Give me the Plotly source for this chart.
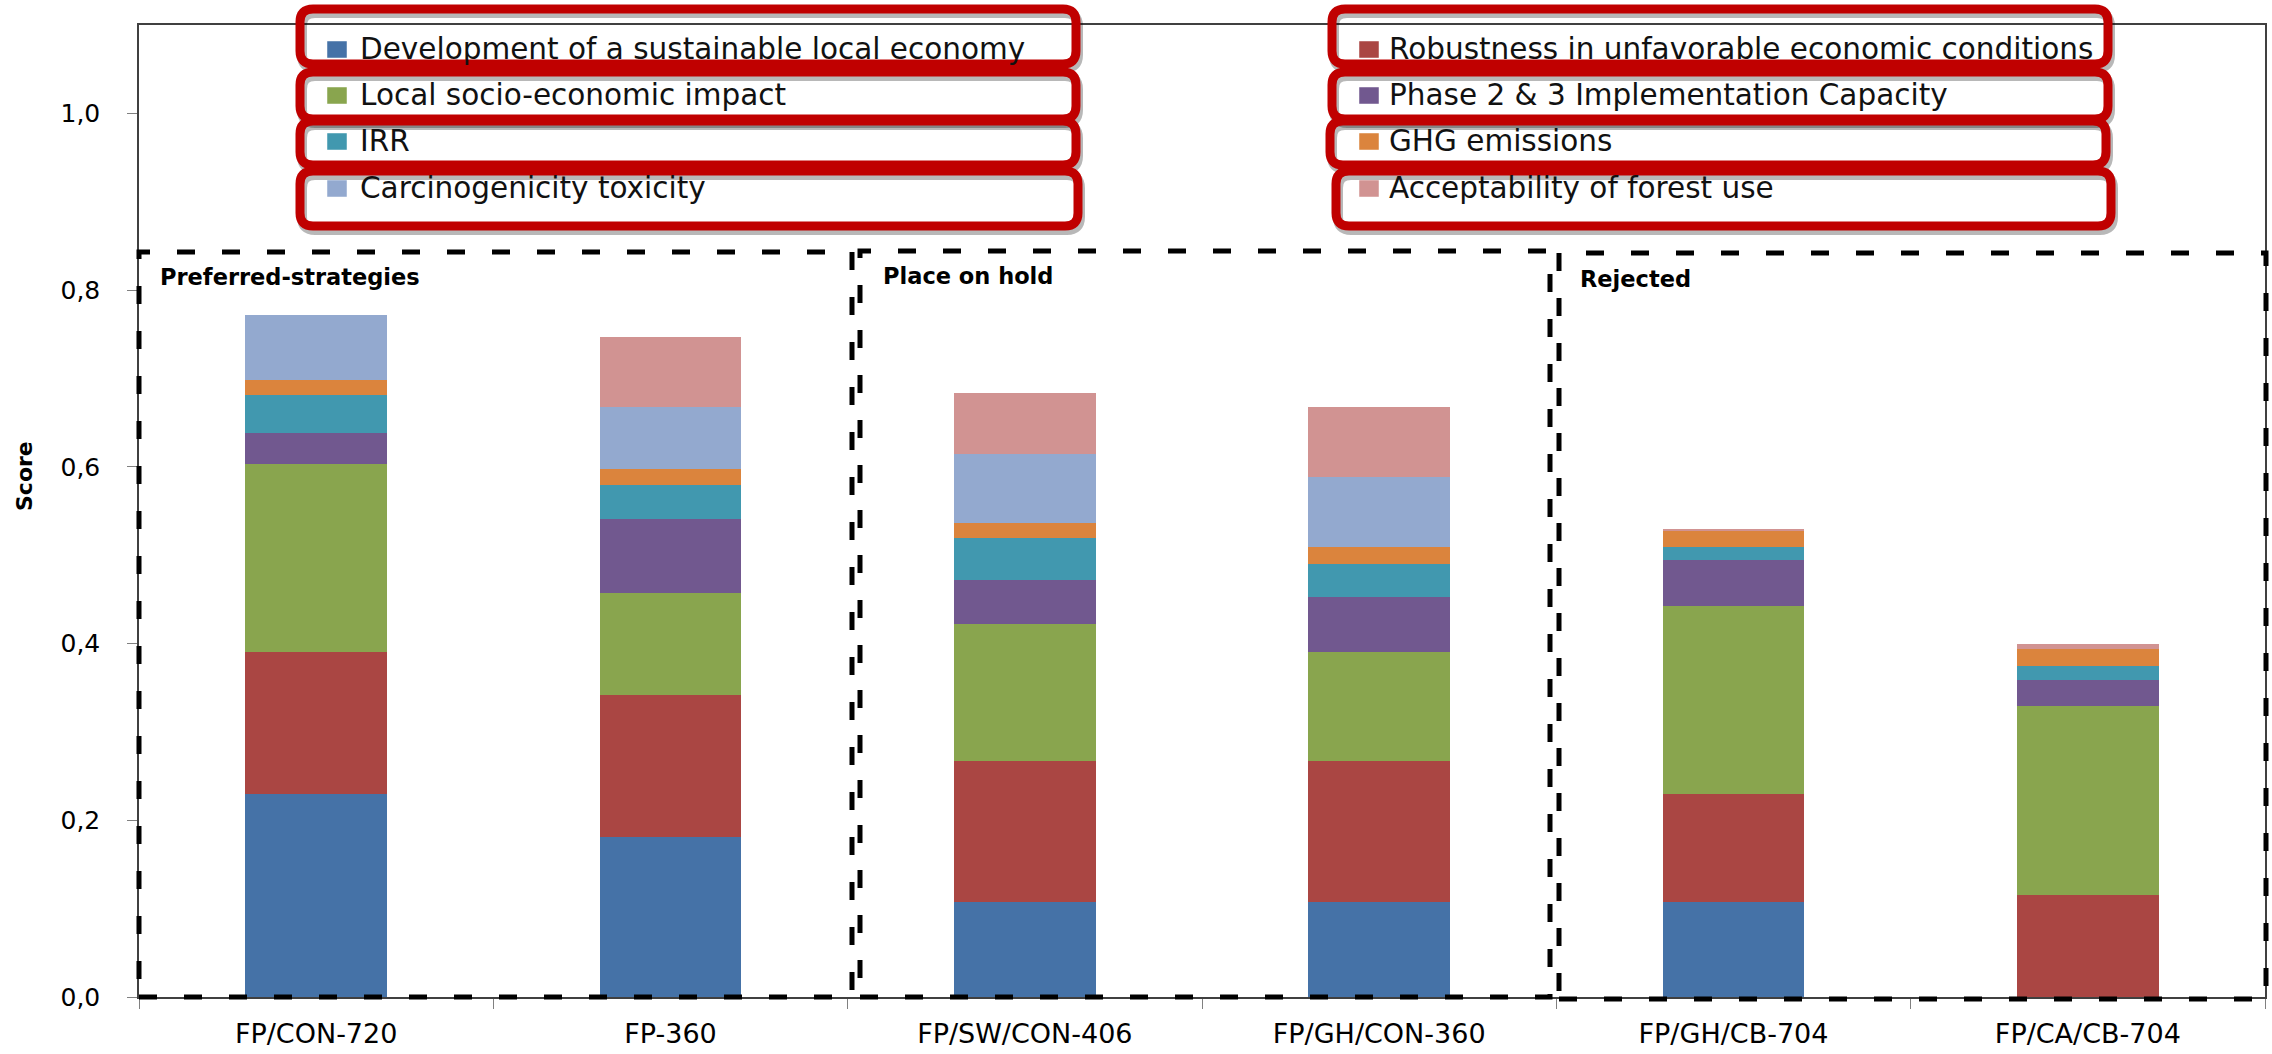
import plotly.graph_objects as go

# ---- data -------------------------------------------------------------
strategies = ["FP/CON-720", "FP-360", "FP/SW/CON-406", "FP/GH/CON-360",
              "FP/GH/CB-704", "FP/CA/CB-704"]

criteria = [
    "Development of a sustainable local economy",
    "Robustness in unfavorable economic conditions",
    "Local socio-economic impact",
    "Phase 2 & 3 Implementation Capacity",
    "IRR",
    "GHG emissions",
    "Carcinogenicity toxicity",
    "Acceptability of forest use",
]

dev_local_economy = [0.230, 0.181, 0.107, 0.107, 0.107, 0.000]
robustness = [0.160, 0.161, 0.160, 0.160, 0.123, 0.115]
socio_economic = [0.213, 0.115, 0.155, 0.123, 0.213, 0.214]
phase_capacity = [0.035, 0.084, 0.050, 0.063, 0.051, 0.030]
irr = [0.043, 0.038, 0.047, 0.037, 0.015, 0.016]
ghg = [0.017, 0.018, 0.017, 0.019, 0.019, 0.019]
carcinogenicity = [0.074, 0.071, 0.078, 0.080, 0.000, 0.000]
acceptability = [0.000, 0.079, 0.069, 0.079, 0.002, 0.005]

series = [dev_local_economy, robustness, socio_economic, phase_capacity,
          irr, ghg, carcinogenicity, acceptability]

groups = ["Preferred-strategies", "Place on hold", "Rejected"]
y_ticks = [0.0, 0.2, 0.4, 0.6, 0.8, 1.0]

# ---- styling -----------------------------------------------------------
colors = ["#4572A7", "#AA4643", "#89A54E", "#71588F",
          "#4198AF", "#DB843D", "#93A9CF", "#D19392"]

W_PX, H_PX = 2272, 1054
PL, PR, PT, PB = 139, 2265, 25, 997      # plot area edges in pixels
FONT = "DejaVu Sans"


def fx(x):
    return (x - PL) / (PR - PL)


def fy(y):
    return (PB - y) / (PB - PT)


fig = go.Figure()
for name, vals, col in zip(criteria, series, colors):
    fig.add_trace(go.Bar(
        x=strategies, y=vals, name=name,
        marker=dict(color=col, line=dict(width=0)),
        showlegend=False,
    ))

shapes = []
annotations = []

# two-column legend (row-major order, like the series order)
legend_cols_px = [(327, 358), (1359, 1387)]
legend_rows_px = [49, 95, 141, 188]
for i, (name, col) in enumerate(zip(criteria, colors)):
    c, r = i % 2, i // 2
    mx, tx = legend_cols_px[c]
    yc = legend_rows_px[r]
    shapes.append(dict(type="rect", xref="paper", yref="paper",
                       x0=fx(mx), x1=fx(mx + 20), y0=fy(yc - 8), y1=fy(yc + 9),
                       fillcolor=col, line=dict(width=0.8, color="rgba(255,255,255,0.6)"),
                       layer="above"))
    annotations.append(dict(text=name, xref="paper", yref="paper",
                            x=fx(tx), y=fy(yc), xanchor="left", yanchor="middle",
                            showarrow=False,
                            font=dict(family=FONT, size=29.5, color="#111111")))

# highlight frames around the legend entries
frames_px = [
    (300, 1076, 9, 64), (300, 1076, 72, 119), (300, 1076, 121, 165), (300, 1078, 171, 226),
    (1332, 2108, 9, 64), (1332, 2108, 72, 119), (1330, 2106, 121, 165), (1336, 2111, 171, 226),
]


def rounded_path(x0, x1, y0, y1, r=13):
    rx = r / (PR - PL)
    ry = r / (PB - PT)
    X0, X1, Y0, Y1 = fx(x0), fx(x1), fy(y0), fy(y1)   # Y0 is top (larger)
    return (f"M {X0 + rx},{Y0} L {X1 - rx},{Y0} Q {X1},{Y0} {X1},{Y0 - ry} "
            f"L {X1},{Y1 + ry} Q {X1},{Y1} {X1 - rx},{Y1} "
            f"L {X0 + rx},{Y1} Q {X0},{Y1} {X0},{Y1 + ry} "
            f"L {X0},{Y0 - ry} Q {X0},{Y0} {X0 + rx},{Y0} Z")


for (x0, x1, y0, y1) in frames_px:
    shapes.append(dict(type="path", xref="paper", yref="paper",
                       path=rounded_path(x0 + 2, x1 + 2, y0 + 4, y1 + 4),
                       line=dict(color="rgba(0,0,0,0.28)", width=10), layer="above"))
    shapes.append(dict(type="path", xref="paper", yref="paper",
                       path=rounded_path(x0, x1, y0, y1),
                       line=dict(color="#C00000", width=9), layer="above"))

# dashed group boxes
group_boxes_px = [(139, 852, 252, 997), (860, 1550, 251, 997), (1559, 2266, 253, 999)]
group_label_px = [(158, 277), (881, 276), (1578, 279)]
for (x0, x1, y0, y1), label, (lx, ly) in zip(group_boxes_px, groups, group_label_px):
    shapes.append(dict(type="rect", xref="paper", yref="paper",
                       x0=fx(x0), x1=fx(x1), y0=fy(y1), y1=fy(y0),
                       line=dict(color="black", width=5, dash="18px,27px"),
                       fillcolor="rgba(0,0,0,0)", layer="above"))
    annotations.append(dict(text=f"<b>{label}</b>", xref="paper", yref="paper",
                            x=fx(lx), y=fy(ly), xanchor="left", yanchor="middle",
                            showarrow=False,
                            font=dict(family=FONT, size=22.5, color="black")))

# y-axis title
annotations.append(dict(text="<b>Score</b>", xref="paper", yref="paper",
                        x=fx(24), y=fy(476), xanchor="center", yanchor="middle",
                        textangle=-90, showarrow=False,
                        font=dict(family=FONT, size=22, color="black")))

fig.update_layout(
    barmode="stack",
    bargap=0.6,
    width=W_PX, height=H_PX, autosize=False,
    margin=dict(l=PL, r=W_PX - PR, t=PT, b=H_PX - PB, pad=0),
    paper_bgcolor="white", plot_bgcolor="white",
    separators=",.",
    shapes=shapes,
    annotations=annotations,
    font=dict(family=FONT, color="black"),
)

fig.update_xaxes(
    type="category", tickson="boundaries", automargin=False,
    ticks="outside", ticklen=10, tickcolor="#808080", tickwidth=1.2,
    showline=True, linecolor="#404040", linewidth=1.5, mirror=True,
    showgrid=False, ticklabelstandoff=12,
    tickfont=dict(family=FONT, size=27, color="black"),
)
fig.update_yaxes(
    range=[0, 1.1], tickvals=y_ticks, tickformat=".1f", automargin=False,
    ticks="outside", ticklen=10, tickcolor="#808080", tickwidth=1.2,
    showline=True, linecolor="#404040", linewidth=1.5, mirror=True,
    showgrid=False, zeroline=False, ticklabelstandoff=22,
    tickfont=dict(family=FONT, size=25, color="black"),
)

fig.write_html("out.html")
